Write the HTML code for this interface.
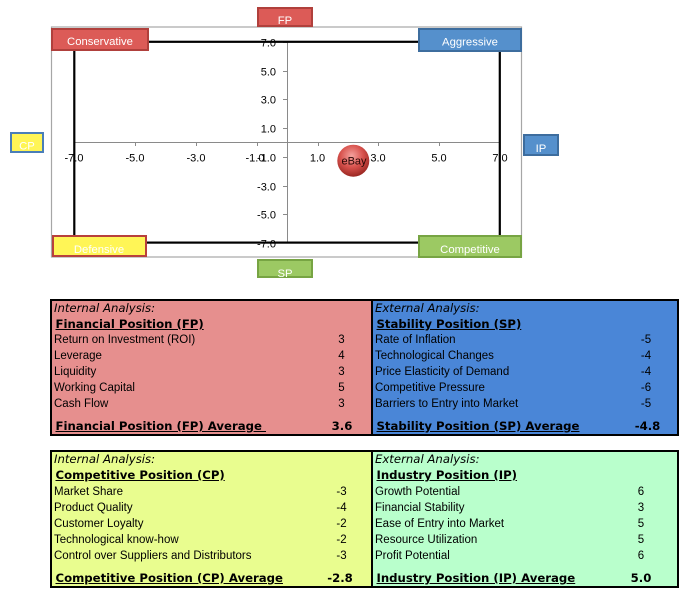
<!DOCTYPE html>
<html>
<head>
<meta charset="utf-8">
<style>
  html,body{margin:0;padding:0;background:#fff;}
  body{width:685px;height:595px;position:relative;overflow:hidden;}
  .t{position:absolute;white-space:nowrap;height:16px;line-height:16px;font-family:"Liberation Sans",sans-serif;font-size:11.5px;color:#000;}
  .i{font-family:"DejaVu Sans",sans-serif;font-style:italic;font-size:11.7px;}
  .b{font-family:"DejaVu Sans",sans-serif;font-weight:bold;font-size:11.7px;text-decoration:underline;}
  .bn{font-family:"DejaVu Sans",sans-serif;font-weight:bold;font-size:11.7px;}
  .v{width:40px;text-align:center;}
  .panel{position:absolute;box-sizing:border-box;border:2px solid #000;}
</style>
</head>
<body>
<svg width="685" height="290" style="position:absolute;left:0;top:0" font-family="Liberation Sans, sans-serif">
  <defs>
    <radialGradient id="bub" cx="45%" cy="35%" r="65%">
      <stop offset="0" stop-color="#F4A29E"/>
      <stop offset="0.55" stop-color="#D8524D"/>
      <stop offset="1" stop-color="#9A2722"/>
    </radialGradient>
  </defs>
  <rect x="51.5" y="27" width="470" height="230" fill="#fff" stroke="#A6A6A6" stroke-width="1.2"/>
  <!-- axes -->
  <line x1="287.5" y1="42" x2="287.5" y2="243" stroke="#8A8A8A" stroke-width="1"/>
  <line x1="74" y1="142.5" x2="500" y2="142.5" stroke="#8A8A8A" stroke-width="1"/>
  <g stroke="#8A8A8A" stroke-width="1">
    <line x1="135.5" y1="142" x2="135.5" y2="146"/>
    <line x1="196.5" y1="142" x2="196.5" y2="146"/>
    <line x1="257.5" y1="142" x2="257.5" y2="146"/>
    <line x1="318.5" y1="142" x2="318.5" y2="146"/>
    <line x1="378.5" y1="142" x2="378.5" y2="146"/>
    <line x1="439.5" y1="142" x2="439.5" y2="146"/>
    <line x1="283" y1="71.5" x2="287" y2="71.5"/>
    <line x1="283" y1="99.5" x2="287" y2="99.5"/>
    <line x1="283" y1="128.5" x2="287" y2="128.5"/>
    <line x1="283" y1="157.5" x2="287" y2="157.5"/>
    <line x1="283" y1="186.5" x2="287" y2="186.5"/>
    <line x1="283" y1="214.5" x2="287" y2="214.5"/>
    <line x1="283" y1="42.5" x2="287" y2="42.5"/>
    <line x1="283" y1="242.5" x2="287" y2="242.5"/>
  </g>
  <!-- y labels -->
  <g font-size="11" fill="#000" text-anchor="end">
    <text x="276" y="46.5">7.0</text>
    <text x="276" y="75.5">5.0</text>
    <text x="276" y="103.5">3.0</text>
    <text x="276" y="132.5">1.0</text>
    <text x="276" y="161.5">-1.0</text>
    <text x="276" y="190.5">-3.0</text>
    <text x="276" y="218.5">-5.0</text>
    <text x="276" y="247.5">-7.0</text>
  </g>
  <!-- x labels -->
  <g font-size="11" fill="#000" text-anchor="middle">
    <text x="74" y="161.5">-7.0</text>
    <text x="135" y="161.5">-5.0</text>
    <text x="196" y="161.5">-3.0</text>
    <text x="255" y="161.5">-1.0</text>
    <text x="317.5" y="161.5">1.0</text>
    <text x="378" y="161.5">3.0</text>
    <text x="439" y="161.5">5.0</text>
    <text x="500" y="161.5">7.0</text>
  </g>
  <!-- black rectangle -->
  <rect x="74.3" y="41.8" width="425.5" height="200.8" fill="none" stroke="#000" stroke-width="2.2"/>
  <!-- bubble -->
  <circle cx="353.3" cy="160.7" r="16" fill="url(#bub)"/>
  <text x="354" y="164.5" font-size="11" fill="#2A0806" text-anchor="middle">eBay</text>
  <!-- boxes -->
  <g stroke-width="2">
    <rect x="52" y="29" width="96" height="21" fill="#DC5B57" stroke="#B0403C"/>
    <rect x="258" y="8" width="54" height="18" fill="#DC5B57" stroke="#B0403C"/>
    <rect x="419" y="29" width="102" height="22" fill="#5590CC" stroke="#3D6D9E"/>
    <rect x="11" y="133" width="32" height="19" fill="#FFF556" stroke="#4A7EB8"/>
    <rect x="524" y="135" width="34" height="20" fill="#5590CC" stroke="#3D6D9E"/>
    <rect x="53" y="236" width="93" height="20" fill="#FFF556" stroke="#B8403C"/>
    <rect x="419" y="236" width="102" height="21" fill="#9CC963" stroke="#77A443"/>
    <rect x="258" y="260" width="54" height="17" fill="#9CC963" stroke="#77A443"/>
  </g>
  <g font-size="11.3" fill="#fff" text-anchor="middle">
    <text x="100" y="45">Conservative</text>
    <text x="285" y="24">FP</text>
    <text x="470" y="45.5">Aggressive</text>
    <text x="27" y="149.5">CP</text>
    <text x="541" y="152">IP</text>
    <text x="99" y="253">Defensive</text>
    <text x="470" y="253">Competitive</text>
    <text x="285" y="277">SP</text>
  </g>
</svg>

<!-- Top table -->
<div class="panel" style="left:50px;top:299px;width:629px;height:137px;background:#E68F8E;"></div>
<div class="panel" style="left:370.5px;top:299px;width:308.5px;height:137px;background:#4A86D7;"></div>

<div class="t i" style="left:54px;top:300px;">Internal Analysis:</div>
<div class="t b" style="left:55.5px;top:316px;">Financial Position (FP)</div>
<div class="t" style="left:54px;top:332px;">Return on Investment (ROI)</div>
<div class="t" style="left:54px;top:348px;">Leverage</div>
<div class="t" style="left:54px;top:364px;">Liquidity</div>
<div class="t" style="left:54px;top:380px;">Working Capital</div>
<div class="t" style="left:54px;top:396px;">Cash Flow</div>
<div class="t b" style="left:55.5px;top:418px;">Financial Position (FP) Average&nbsp;</div>
<div class="t v" style="left:321.5px;top:332px;">3</div>
<div class="t v" style="left:321.5px;top:348px;">4</div>
<div class="t v" style="left:321.5px;top:364px;">3</div>
<div class="t v" style="left:321.5px;top:380px;">5</div>
<div class="t v" style="left:321.5px;top:396px;">3</div>
<div class="t v bn" style="left:322px;top:418px;">3.6</div>

<div class="t i" style="left:375px;top:300px;">External Analysis:</div>
<div class="t b" style="left:376.5px;top:316px;">Stability Position (SP)</div>
<div class="t" style="left:375px;top:332px;">Rate of Inflation</div>
<div class="t" style="left:375px;top:348px;">Technological Changes</div>
<div class="t" style="left:375px;top:364px;">Price Elasticity of Demand</div>
<div class="t" style="left:375px;top:380px;">Competitive Pressure</div>
<div class="t" style="left:375px;top:396px;">Barriers to Entry into Market</div>
<div class="t b" style="left:376.5px;top:418px;">Stability Position (SP) Average</div>
<div class="t v" style="left:626px;top:332px;">-5</div>
<div class="t v" style="left:626px;top:348px;">-4</div>
<div class="t v" style="left:626px;top:364px;">-4</div>
<div class="t v" style="left:626px;top:380px;">-6</div>
<div class="t v" style="left:626px;top:396px;">-5</div>
<div class="t v bn" style="left:627.5px;top:418px;">-4.8</div>

<!-- Bottom table -->
<div class="panel" style="left:50px;top:450px;width:629px;height:138px;background:#E9FD8F;"></div>
<div class="panel" style="left:370.5px;top:450px;width:308.5px;height:138px;background:#B9FFCC;"></div>

<div class="t i" style="left:54px;top:451px;">Internal Analysis:</div>
<div class="t b" style="left:55.5px;top:467px;">Competitive Position (CP)</div>
<div class="t" style="left:54px;top:484px;">Market Share</div>
<div class="t" style="left:54px;top:500px;">Product Quality</div>
<div class="t" style="left:54px;top:516px;">Customer Loyalty</div>
<div class="t" style="left:54px;top:532px;">Technological know-how</div>
<div class="t" style="left:54px;top:548px;">Control over Suppliers and Distributors</div>
<div class="t b" style="left:55.5px;top:570px;">Competitive Position (CP) Average</div>
<div class="t v" style="left:321.5px;top:484px;">-3</div>
<div class="t v" style="left:321.5px;top:500px;">-4</div>
<div class="t v" style="left:321.5px;top:516px;">-2</div>
<div class="t v" style="left:321.5px;top:532px;">-2</div>
<div class="t v" style="left:321.5px;top:548px;">-3</div>
<div class="t v bn" style="left:320px;top:570px;">-2.8</div>

<div class="t i" style="left:375px;top:451px;">External Analysis:</div>
<div class="t b" style="left:376.5px;top:467px;">Industry Position (IP)</div>
<div class="t" style="left:375px;top:484px;">Growth Potential</div>
<div class="t" style="left:375px;top:500px;">Financial Stability</div>
<div class="t" style="left:375px;top:516px;">Ease of Entry into Market</div>
<div class="t" style="left:375px;top:532px;">Resource Utilization</div>
<div class="t" style="left:375px;top:548px;">Profit Potential</div>
<div class="t b" style="left:376.5px;top:570px;">Industry Position (IP) Average</div>
<div class="t v" style="left:621px;top:484px;">6</div>
<div class="t v" style="left:621px;top:500px;">3</div>
<div class="t v" style="left:621px;top:516px;">5</div>
<div class="t v" style="left:621px;top:532px;">5</div>
<div class="t v" style="left:621px;top:548px;">6</div>
<div class="t v bn" style="left:621px;top:570px;">5.0</div>
</body>
</html>
